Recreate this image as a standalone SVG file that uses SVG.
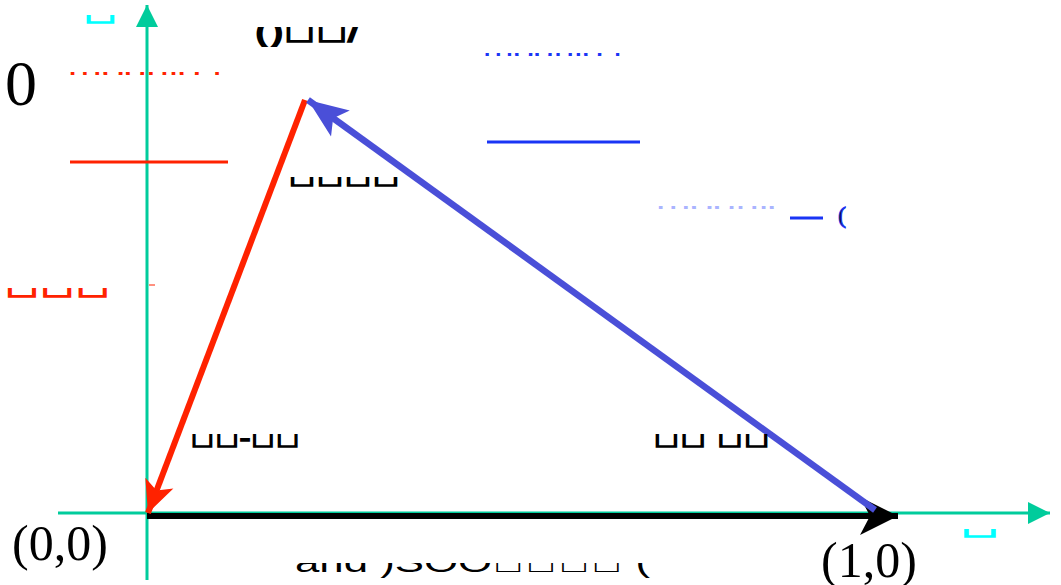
<svg xmlns="http://www.w3.org/2000/svg" width="1061" height="585" viewBox="0 0 1061 585">
<style>
.ax{stroke:#00cc9c;stroke-width:3;fill:none}
.ser{font-family:"Liberation Serif",serif;fill:#000}
.tf{font-family:"Liberation Sans",sans-serif}
.k{fill:#000;stroke:#000;stroke-width:1.6}
</style>
<defs>
<marker id="mGreen" markerUnits="userSpaceOnUse" markerWidth="24" markerHeight="24" refX="22" refY="11" orient="auto" viewBox="0 0 24 22"><path d="M0,0 L22,11 L0,22 Z" fill="#00cc9c"/></marker>
<marker id="mBlack" markerUnits="userSpaceOnUse" markerWidth="40" markerHeight="40" refX="38" refY="19" orient="auto" viewBox="0 0 40 38"><path d="M0,0 L38,19 L0,38 L10,19 Z" fill="#000"/></marker>
<marker id="mRed" markerUnits="userSpaceOnUse" markerWidth="34" markerHeight="34" refX="32" refY="15" orient="auto" viewBox="0 0 34 30"><path d="M0,0 L32,15 L0,30 L8,15 Z" fill="#ff2200"/></marker>
<marker id="mBlue" markerUnits="userSpaceOnUse" markerWidth="42" markerHeight="42" refX="40" refY="16" orient="auto" viewBox="0 0 42 32"><path d="M0,0 L40,16 L0,32 L9,16 Z" fill="#4a4fd8"/></marker>
<clipPath id="c1"><rect x="0" y="15" width="1061" height="12"/></clipPath>
<clipPath id="c2"><rect x="0" y="27" width="1061" height="20"/></clipPath>
<clipPath id="c3"><rect x="0" y="53" width="1061" height="3"/></clipPath>
<clipPath id="c4"><rect x="0" y="72" width="1061" height="3"/></clipPath>
<clipPath id="c5"><rect x="0" y="206" width="780" height="3"/></clipPath>
<clipPath id="c6"><rect x="0" y="177" width="1061" height="12"/></clipPath>
<clipPath id="c7"><rect x="0" y="288" width="1061" height="13"/></clipPath>
<clipPath id="c8"><rect x="0" y="434" width="1061" height="16"/></clipPath>
<clipPath id="c9"><rect x="0" y="563" width="1061" height="18"/></clipPath>
<clipPath id="c10"><rect x="0" y="529" width="1061" height="12"/></clipPath>
</defs>
<rect width="1061" height="585" fill="#fff"/>
<g id="connectors">
<line class="ax" x1="147" y1="580" x2="147" y2="5" marker-end="url(#mGreen)"/>
<line class="ax" x1="58" y1="513" x2="1050" y2="513" marker-end="url(#mGreen)"/>
<line x1="147" y1="516" x2="898" y2="516" stroke="#000" stroke-width="6" marker-end="url(#mBlack)"/>
<line x1="305" y1="100" x2="148" y2="513" stroke="#ff2200" stroke-width="6" marker-end="url(#mRed)"/>
<line x1="875" y1="510" x2="308" y2="100" stroke="#4a4fd8" stroke-width="6.5" marker-end="url(#mBlue)"/>
<line x1="70" y1="162" x2="228" y2="162" stroke="#ff2200" stroke-width="3"/>
<line x1="487" y1="142" x2="640" y2="142" stroke="#1a35f5" stroke-width="3"/>
<line x1="790" y1="218" x2="823" y2="218" stroke="#1a35f5" stroke-width="3"/>
<line x1="149" y1="285" x2="155" y2="285" stroke="#ff2200" stroke-width="1"/>
</g>
<g id="labels">
<text class="ser" x="5" y="105" font-size="64">0</text>
<text class="ser" x="12" y="560" font-size="50">(0,0)</text>
<text class="ser" x="821" y="577" font-size="50">(1,0)</text>
<text class="tf" x="83" y="23" font-size="30" fill="#00ffff" stroke="#00ffff" stroke-width="1.5" clip-path="url(#c1)" textLength="35" lengthAdjust="spacingAndGlyphs">&#xE000;</text>
<text class="tf" x="960" y="537" font-size="30" fill="#00ffff" stroke="#00ffff" stroke-width="1.5" clip-path="url(#c10)" textLength="40" lengthAdjust="spacingAndGlyphs">&#xE000;</text>
<text class="tf k" x="255" y="42" font-size="32" stroke-width="1" clip-path="url(#c2)" textLength="105" lengthAdjust="spacingAndGlyphs">()&#xE000;&#xE000;/</text>
<text class="tf" x="483" y="62" font-size="30" fill="#1a35f5" clip-path="url(#c3)" textLength="140" lengthAdjust="spacingAndGlyphs">modulo f</text>
<text class="tf" x="68" y="81" font-size="30" fill="#ff2200" clip-path="url(#c4)" textLength="155" lengthAdjust="spacingAndGlyphs">modulo f</text>
<text class="tf" x="656" y="215" font-size="30" fill="#aab4ff" clip-path="url(#c5)" textLength="135" lengthAdjust="spacingAndGlyphs">modulo</text>
<text class="ser" x="838" y="223" font-size="24" fill="#1a35f5" stroke="#1a35f5" stroke-width="1">(</text>
<text class="tf k" x="288" y="186" font-size="28" clip-path="url(#c6)" textLength="112" lengthAdjust="spacingAndGlyphs">&#xE000;&#xE000;&#xE000;&#xE000;</text>
<text class="tf" x="4" y="297" font-size="34" fill="#ff2200" stroke="#ff2200" stroke-width="1.6" clip-path="url(#c7)" textLength="106" lengthAdjust="spacingAndGlyphs">&#xE000;&#xE000;&#xE000;</text>
<text class="tf k" x="190" y="447" font-size="28" clip-path="url(#c8)" textLength="110" lengthAdjust="spacingAndGlyphs">&#xE000;&#xE000;-&#xE000;&#xE000;</text>
<text class="tf k" x="653" y="447" font-size="28" clip-path="url(#c8)" textLength="117" lengthAdjust="spacingAndGlyphs">&#xE000;&#xE000; &#xE000;&#xE000;</text>
<text class="tf" x="295" y="572" font-size="30" fill="#000" clip-path="url(#c9)" textLength="355" lengthAdjust="spacingAndGlyphs">and )SOO&#xE000;&#xE000;&#xE000;&#xE000; (</text>
</g>
</svg>
